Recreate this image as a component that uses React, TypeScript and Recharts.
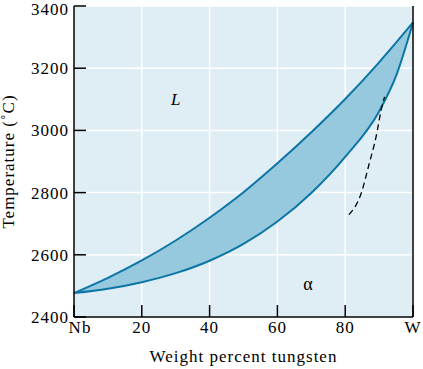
import { ComposedChart, Area, Line, XAxis, YAxis, CartesianGrid, ReferenceDot } from "recharts"

// weight percent W
const weightPct = [0, 10, 20, 30, 40, 50, 60, 70, 80, 90, 95, 100]
const liquidus = [2477, 2526, 2582, 2646, 2719, 2801, 2894, 2994, 3101, 3219, 3282, 3347]
const solidus = [2477, 2491, 2512, 2541, 2581, 2635, 2707, 2799, 2915, 3061, 3175, 3347]

// dashed curve
const dashWt = [81.1, 84.7, 87.1, 89.1, 90.6, 91.6]
const dashT = [2729, 2797, 2894, 2979, 3065, 3108]

const xTicks = [0, 20, 40, 60, 80, 100]
const yTicks = [2400, 2600, 2800, 3000, 3200, 3400]
const xTickNames: Record<number, string> = { 0: "Nb", 100: "W" }

const data = weightPct.map((x, i) => ({
  x,
  liq: liquidus[i],
  sol: solidus[i],
  band: [solidus[i], liquidus[i]],
}))
const dashData = dashWt.map((x, i) => ({ x, t: dashT[i] }))

const FONT = "'Liberation Serif', 'Times New Roman', serif"
const STROKE = "#0b76a6"
const txt = { fontFamily: FONT, fontSize: 17, letterSpacing: 1, fill: "#000" }

const XTick = ({ x, y, payload }: any) => {
  const v = payload.value
  const shift = v === 0 ? 6 : v === 100 ? 2 : 0
  return (
    <text x={x + shift} y={y + 11} textAnchor="middle" {...txt}>
      {xTickNames[v] ?? String(v)}
    </text>
  )
}

const YTick = ({ x, y, payload }: any) => (
  <text x={x + 1} y={y + 6} textAnchor="end" {...txt}>
    {payload.value}
  </text>
)

const App = () => {
  return (
    <div style={{ position: "absolute", left: 0, top: 0 }}>
      <ComposedChart
        width={423}
        height={369}
        data={data}
        margin={{ top: 6, right: 0, bottom: 0, left: 0 }}
      >
        <CartesianGrid stroke="#ffffff" strokeWidth={1.5} fill="#dfedf4" />
        <XAxis
          dataKey="x"
          type="number"
          domain={[0, 100]}
          ticks={xTicks}
          height={52}
          stroke="#000"
          strokeWidth={1.5}
          tickSize={-12}
          tickMargin={17}
          tick={<XTick />}
          label={({ viewBox }: any) => (
            <text
              x={viewBox.x + viewBox.width / 2}
              y={viewBox.y + 45}
              textAnchor="middle"
              {...txt}
            >
              Weight percent tungsten
            </text>
          )}
        />
        <YAxis
          type="number"
          domain={[2400, 3400]}
          ticks={yTicks}
          width={74}
          stroke="#000"
          strokeWidth={1.5}
          tickSize={-12}
          tickMargin={18}
          tick={<YTick />}
          allowDataOverflow
          label={({ viewBox }: any) => {
            const cx = viewBox.x + 14
            const cy = viewBox.y + viewBox.height / 2
            return (
              <text
                x={cx}
                y={cy}
                transform={`rotate(-90 ${cx} ${cy})`}
                textAnchor="middle"
                {...txt}
              >
                Temperature (˚C)
              </text>
            )
          }}
        />
        <YAxis
          yAxisId="r"
          orientation="right"
          type="number"
          domain={[2400, 3400]}
          ticks={yTicks}
          width={10}
          stroke="#000"
          strokeWidth={1.5}
          tickSize={-12}
          tick={false}
        />
        <Area
          dataKey="band"
          type="monotone"
          fill="#96c8de"
          fillOpacity={1}
          stroke="none"
          isAnimationActive={false}
        />
        <Line dataKey="liq" type="monotone" stroke={STROKE} strokeWidth={2} dot={false} isAnimationActive={false} />
        <Line dataKey="sol" type="monotone" stroke={STROKE} strokeWidth={2} dot={false} isAnimationActive={false} />
        <Line
          data={dashData}
          dataKey="t"
          type="monotone"
          stroke="#000"
          strokeWidth={1.3}
          strokeDasharray="6 4"
          dot={false}
          isAnimationActive={false}
        />
        <ReferenceDot
          x={30}
          y={3100}
          r={0}
          shape={(p: any) => (
            <text x={p.cx} y={p.cy + 6} textAnchor="middle" {...txt} fontStyle="italic" fontSize={17} letterSpacing={0}>
              L
            </text>
          )}
        />
        <ReferenceDot
          x={69}
          y={2500}
          r={0}
          shape={(p: any) => (
            <text x={p.cx} y={p.cy + 4} textAnchor="middle" {...txt} fontSize={18} letterSpacing={0}>
              α
            </text>
          )}
        />
      </ComposedChart>
    </div>
  )
}

export default App
